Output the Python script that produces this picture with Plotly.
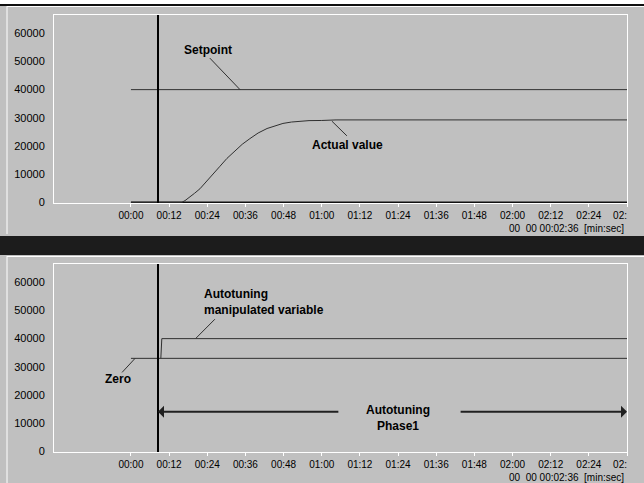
import plotly.graph_objects as go

W, H = 644, 483

# ---- data (time in seconds, values in raw units) ----
tick_seconds = [0, 12, 24, 36, 48, 60, 72, 84, 96, 108, 120, 132, 144, 156]
tick_labels = ["00:00", "00:12", "00:24", "00:36", "00:48", "01:00", "01:12",
               "01:24", "01:36", "01:48", "02:00", "02:12", "02:24",
               "02:\u00a0\u00a0\u00a0\u00a0\u00a0"]
y_ticks = [0, 10000, 20000, 30000, 40000, 50000, 60000]
y_tick_labels = ["0", "10000", "20000", "30000", "40000", "50000", "60000"]

setpoint_t = [0, 156]
setpoint_v = [40000, 40000]

actual_t = [0, 16.0, 17.0, 18.5, 20.0, 21.7, 23.5, 25.5, 28.0, 30.2, 32.5, 35.0, 37.4,
            40.0, 42.8, 45.5, 47.8, 50.5, 53.1, 56.0, 60.0, 63.2, 64.5, 156]
actual_v = [0, 0, 600, 1800, 3200, 4800, 7000, 9700, 12800, 15600, 18100, 20600, 22600,
            24600, 26200, 27300, 28000, 28500, 28800, 29000, 29050, 29100, 29250, 29250]

baseline_t = [0, 156]
baseline_v = [0, 0]

zero_t = [0, 156]
zero_v = [33000, 33000]

manip_t = [9.4, 9.7, 156]
manip_v = [33000, 40000, 40000]

cursor_time = 8.5
phase_level = 14000
phase_start = 8.5
phase_end = 156

x_range = [-24.2, 156]
y_range = [-250, 66500]

GRID_BG = "#c0c0c0"
LINE_C = "#303030"
FONT = "Liberation Sans, Arial, sans-serif"


def py(ypix):
    return 1 - ypix / H


def px(xpix):
    return xpix / W


fig = go.Figure()

# top panel traces
fig.add_trace(go.Scatter(x=baseline_t, y=baseline_v, mode="lines",
                         line=dict(color="#101010", width=1.5), xaxis="x", yaxis="y"))
fig.add_trace(go.Scatter(x=setpoint_t, y=setpoint_v, mode="lines",
                         line=dict(color=LINE_C, width=1), xaxis="x", yaxis="y"))
fig.add_trace(go.Scatter(x=actual_t, y=actual_v, mode="lines",
                         line=dict(color=LINE_C, width=1), xaxis="x", yaxis="y"))
# bottom panel traces
fig.add_trace(go.Scatter(x=zero_t, y=zero_v, mode="lines",
                         line=dict(color=LINE_C, width=1), xaxis="x2", yaxis="y2"))
fig.add_trace(go.Scatter(x=manip_t, y=manip_v, mode="lines",
                         line=dict(color=LINE_C, width=1), xaxis="x2", yaxis="y2"))

axis_common_x = dict(range=x_range, tickvals=tick_seconds, ticktext=tick_labels,
                     showgrid=False, zeroline=False, showline=True, linecolor="white",
                     linewidth=1, mirror=True, ticks="outside", ticklen=3, automargin=False,
                     tickcolor="white", tickfont=dict(family=FONT, size=10, color="black"))
axis_common_y = dict(range=y_range, tickvals=y_ticks, ticktext=y_tick_labels,
                     showgrid=False, zeroline=False, automargin=False,
                     showline=True, linecolor="white", linewidth=1, mirror=True,
                     ticks="", ticklabelstandoff=6,
                     tickfont=dict(family=FONT, size=11, color="black"))

dom_x = [px(54), px(627)]
fig.update_layout(
    width=W, height=H, autosize=False,
    margin=dict(l=0, r=0, t=0, b=0, autoexpand=False),
    paper_bgcolor=GRID_BG, plot_bgcolor=GRID_BG,
    showlegend=False,
    xaxis=dict(domain=dom_x, anchor="y", **axis_common_x),
    yaxis=dict(domain=[py(203), py(15)], anchor="x", **axis_common_y),
    xaxis2=dict(domain=dom_x, anchor="y2", **axis_common_x),
    yaxis2=dict(domain=[py(452), py(264)], anchor="x2", **axis_common_y),
)

shapes = []
# page decoration
shapes.append(dict(type="rect", xref="paper", yref="paper", x0=0, x1=1, y0=py(4), y1=1,
                   fillcolor="white", line_width=0, layer="below"))
shapes.append(dict(type="line", xref="paper", yref="paper", x0=0, x1=1, y0=py(5), y1=py(5),
                   line=dict(color="#101010", width=2)))
shapes.append(dict(type="rect", xref="paper", yref="paper", x0=0, x1=1, y0=py(255), y1=py(236),
                   fillcolor="#1c1c1c", line_width=0))
shapes.append(dict(type="line", xref="paper", yref="paper", x0=px(7), x1=px(7), y0=py(234), y1=py(6),
                   line=dict(color="white", width=1)))
shapes.append(dict(type="line", xref="paper", yref="paper", x0=px(7), x1=1, y0=py(6.5), y1=py(6.5),
                   line=dict(color="white", width=1)))
shapes.append(dict(type="line", xref="paper", yref="paper", x0=px(7), x1=px(7), y0=0, y1=py(256),
                   line=dict(color="white", width=1)))
shapes.append(dict(type="line", xref="paper", yref="paper", x0=px(7), x1=1, y0=py(256.5), y1=py(256.5),
                   line=dict(color="white", width=1)))
# cursors
for ya in ["y", "y2"]:
    shapes.append(dict(type="line", xref="x" if ya == "y" else "x2", yref=ya + " domain",
                       x0=cursor_time, x1=cursor_time, y0=0, y1=1,
                       line=dict(color="black", width=2)))
# leader lines (top)
leader = dict(color=LINE_C, width=1)
shapes.append(dict(type="line", xref="x", yref="y", x0=24.8, y0=51200, x1=34.3, y1=40000, line=leader))
shapes.append(dict(type="line", xref="x", yref="y", x0=63.2, y0=28800, x1=67.9, y1=23600, line=leader))
# leader lines (bottom)
shapes.append(dict(type="line", xref="x2", yref="y2", x0=26.4, y0=46900, x1=20.4, y1=40100, line=leader))
shapes.append(dict(type="line", xref="x2", yref="y2", x0=-2.8, y0=28000, x1=1.3, y1=33000, line=leader))
fig.update_layout(shapes=shapes)

bold = dict(family=FONT, size=12, color="black")
ann = []
ann.append(dict(xref="x", yref="y", x=24.2, y=54000, text="<b>Setpoint</b>", showarrow=False, font=bold))
ann.append(dict(xref="x", yref="y", x=68.2, y=20500, text="<b>Actual value</b>", showarrow=False, font=bold))
ann.append(dict(xref="x2", yref="y2", x=22.3, y=52900, text="<b>Autotuning<br>manipulated variable</b>",
                showarrow=False, font=bold, xanchor="left", align="left"))
ann.append(dict(xref="x2", yref="y2", x=-4.1, y=25600, text="<b>Zero</b>", showarrow=False, font=bold))
ann.append(dict(xref="x2", yref="y2", x=84.0, y=phase_level - 2300, text="<b>Autotuning<br>Phase1</b>",
                showarrow=False, font=bold, align="center"))
# phase arrows
ann.append(dict(xref="x2", yref="y2", axref="x2", ayref="y2", x=phase_start, y=phase_level,
                ax=65.7, ay=phase_level, text="", showarrow=True, arrowhead=1, arrowsize=1,
                arrowwidth=2, arrowcolor="#202020"))
ann.append(dict(xref="x2", yref="y2", axref="x2", ayref="y2", x=phase_end, y=phase_level,
                ax=103.2, ay=phase_level, text="", showarrow=True, arrowhead=1, arrowsize=1,
                arrowwidth=2, arrowcolor="#202020"))
# time unit lines
for yp in [228, 477.5]:
    ann.append(dict(xref="paper", yref="paper", x=px(626), y=py(yp), xanchor="right", yanchor="middle",
                    text="00\u00a0\u00a000\u00a000:02:36\u00a0\u00a0[min:sec]", showarrow=False,
                    font=dict(family=FONT, size=10, color="black")))
fig.update_layout(annotations=ann)

fig.write_html("out.html", config={"displayModeBar": False},
               post_script="document.body.style.margin='0px';document.body.style.overflow='hidden';")
